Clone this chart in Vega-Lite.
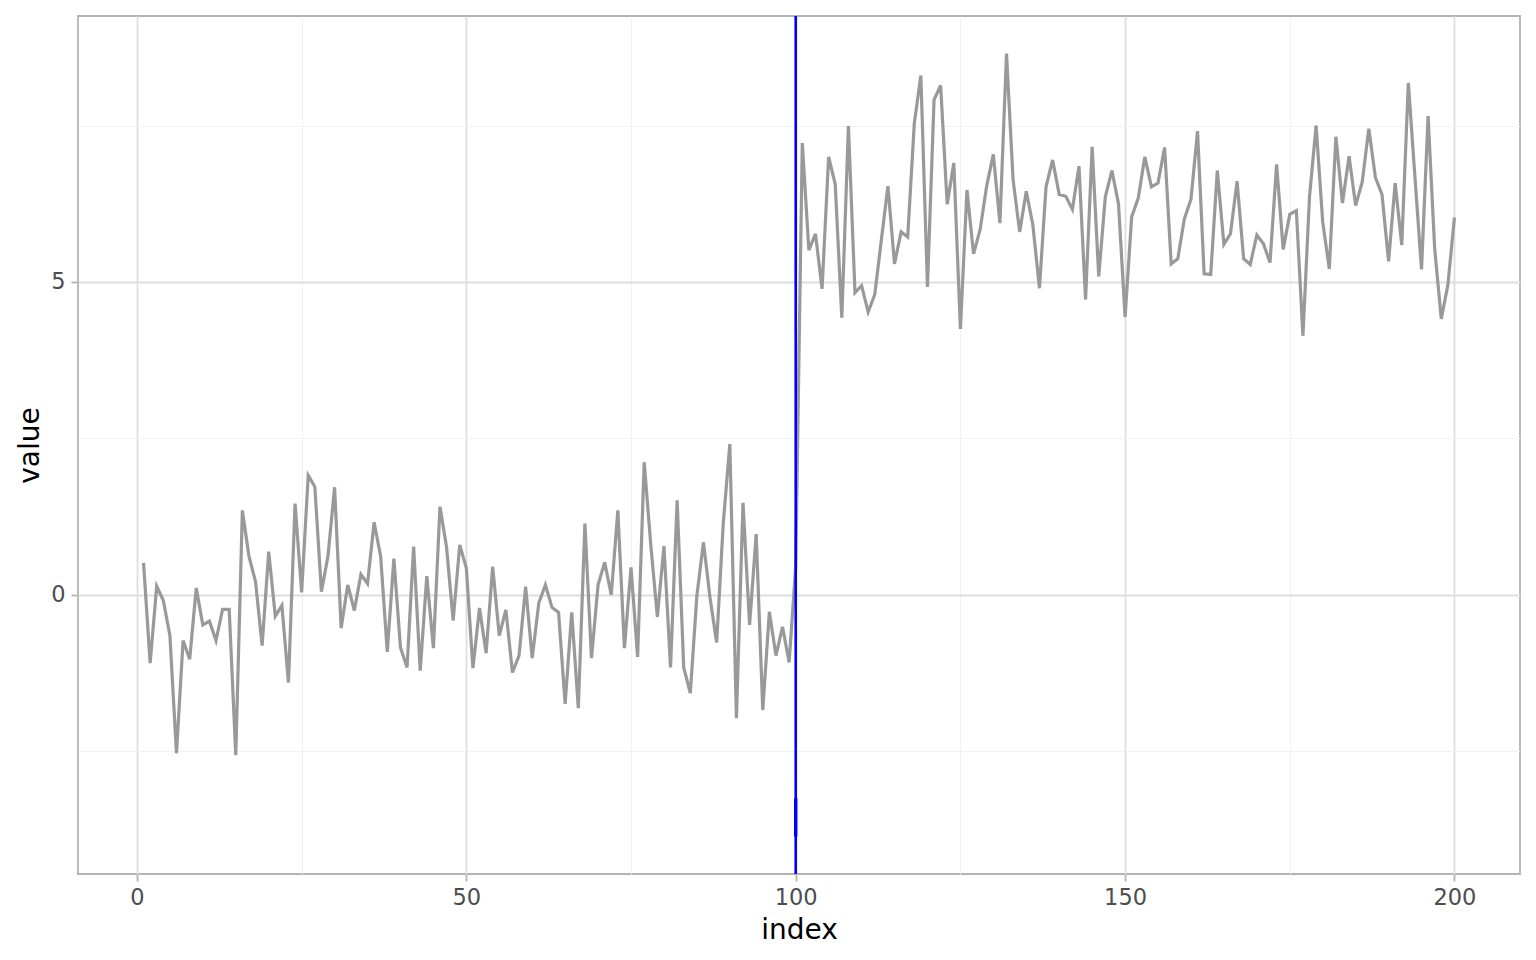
{
  "$schema": "https://vega.github.io/schema/vega-lite/v6.json",
  "width": 1442,
  "height": 858,
  "autosize": {"type": "none"},
  "padding": {"left": 78, "top": 16, "right": 16, "bottom": 86},
  "background": "white",
  "config": {
    "view": {"stroke": "#B3B3B3", "strokeWidth": 1.8},
    "axis": {
      "labelFont": "DejaVu Sans",
      "labelFontSize": 22.5,
      "labelColor": "#4D4D4D",
      "titleFont": "DejaVu Sans",
      "titleFontSize": 28,
      "titleFontWeight": "normal",
      "titleColor": "#000000",
      "domain": false,
      "tickWidth": 1.8,
      "tickSize": 7,
      "labelPadding": 4
    }
  },
  "datasets": {
    "series": [
      {"index": 1, "value": 0.51}, {"index": 2, "value": -1.09}, {"index": 3, "value": 0.14}, {"index": 4, "value": -0.09}, {"index": 5, "value": -0.65},
      {"index": 6, "value": -2.53}, {"index": 7, "value": -0.73}, {"index": 8, "value": -1.03}, {"index": 9, "value": 0.11}, {"index": 10, "value": -0.48},
      {"index": 11, "value": -0.42}, {"index": 12, "value": -0.73}, {"index": 13, "value": -0.23}, {"index": 14, "value": -0.23}, {"index": 15, "value": -2.56},
      {"index": 16, "value": 1.35}, {"index": 17, "value": 0.62}, {"index": 18, "value": 0.21}, {"index": 19, "value": -0.81}, {"index": 20, "value": 0.69},
      {"index": 21, "value": -0.34}, {"index": 22, "value": -0.17}, {"index": 23, "value": -1.40}, {"index": 24, "value": 1.46}, {"index": 25, "value": 0.04},
      {"index": 26, "value": 1.91}, {"index": 27, "value": 1.73}, {"index": 28, "value": 0.05}, {"index": 29, "value": 0.62}, {"index": 30, "value": 1.72},
      {"index": 31, "value": -0.53}, {"index": 32, "value": 0.16}, {"index": 33, "value": -0.25}, {"index": 34, "value": 0.33}, {"index": 35, "value": 0.18},
      {"index": 36, "value": 1.16}, {"index": 37, "value": 0.61}, {"index": 38, "value": -0.91}, {"index": 39, "value": 0.58}, {"index": 40, "value": -0.84},
      {"index": 41, "value": -1.16}, {"index": 42, "value": 0.77}, {"index": 43, "value": -1.21}, {"index": 44, "value": 0.30}, {"index": 45, "value": -0.85},
      {"index": 46, "value": 1.41}, {"index": 47, "value": 0.76}, {"index": 48, "value": -0.41}, {"index": 49, "value": 0.80}, {"index": 50, "value": 0.43},
      {"index": 51, "value": -1.17}, {"index": 52, "value": -0.21}, {"index": 53, "value": -0.93}, {"index": 54, "value": 0.45}, {"index": 55, "value": -0.65},
      {"index": 56, "value": -0.24}, {"index": 57, "value": -1.24}, {"index": 58, "value": -0.97}, {"index": 59, "value": 0.13}, {"index": 60, "value": -1.01},
      {"index": 61, "value": -0.13}, {"index": 62, "value": 0.16}, {"index": 63, "value": -0.20}, {"index": 64, "value": -0.28}, {"index": 65, "value": -1.74},
      {"index": 66, "value": -0.28}, {"index": 67, "value": -1.81}, {"index": 68, "value": 1.14}, {"index": 69, "value": -1.01}, {"index": 70, "value": 0.16},
      {"index": 71, "value": 0.52}, {"index": 72, "value": 0.00}, {"index": 73, "value": 1.35}, {"index": 74, "value": -0.85}, {"index": 75, "value": 0.44},
      {"index": 76, "value": -0.99}, {"index": 77, "value": 2.12}, {"index": 78, "value": 0.80}, {"index": 79, "value": -0.35}, {"index": 80, "value": 0.78},
      {"index": 81, "value": -1.16}, {"index": 82, "value": 1.51}, {"index": 83, "value": -1.16}, {"index": 84, "value": -1.57}, {"index": 85, "value": -0.01},
      {"index": 86, "value": 0.84}, {"index": 87, "value": -0.05}, {"index": 88, "value": -0.76}, {"index": 89, "value": 1.14}, {"index": 90, "value": 2.41},
      {"index": 91, "value": -1.97}, {"index": 92, "value": 1.47}, {"index": 93, "value": -0.48}, {"index": 94, "value": 0.97}, {"index": 95, "value": -1.84},
      {"index": 96, "value": -0.27}, {"index": 97, "value": -0.97}, {"index": 98, "value": -0.51}, {"index": 99, "value": -1.08}, {"index": 100, "value": 0.45},
      {"index": 101, "value": 7.22}, {"index": 102, "value": 5.51}, {"index": 103, "value": 5.77}, {"index": 104, "value": 4.89}, {"index": 105, "value": 7.00},
      {"index": 106, "value": 6.56}, {"index": 107, "value": 4.43}, {"index": 108, "value": 7.49}, {"index": 109, "value": 4.83}, {"index": 110, "value": 4.94},
      {"index": 111, "value": 4.52}, {"index": 112, "value": 4.80}, {"index": 113, "value": 5.67}, {"index": 114, "value": 6.53}, {"index": 115, "value": 5.29},
      {"index": 116, "value": 5.80}, {"index": 117, "value": 5.72}, {"index": 118, "value": 7.53}, {"index": 119, "value": 8.30}, {"index": 120, "value": 4.92},
      {"index": 121, "value": 7.91}, {"index": 122, "value": 8.14}, {"index": 123, "value": 6.24}, {"index": 124, "value": 6.90}, {"index": 125, "value": 4.25},
      {"index": 126, "value": 6.47}, {"index": 127, "value": 5.45}, {"index": 128, "value": 5.84}, {"index": 129, "value": 6.54}, {"index": 130, "value": 7.04},
      {"index": 131, "value": 5.94}, {"index": 132, "value": 8.65}, {"index": 133, "value": 6.63}, {"index": 134, "value": 5.80}, {"index": 135, "value": 6.45},
      {"index": 136, "value": 5.91}, {"index": 137, "value": 4.90}, {"index": 138, "value": 6.52}, {"index": 139, "value": 6.95}, {"index": 140, "value": 6.40},
      {"index": 141, "value": 6.37}, {"index": 142, "value": 6.16}, {"index": 143, "value": 6.85}, {"index": 144, "value": 4.72}, {"index": 145, "value": 7.16},
      {"index": 146, "value": 5.09}, {"index": 147, "value": 6.36}, {"index": 148, "value": 6.78}, {"index": 149, "value": 6.25}, {"index": 150, "value": 4.44},
      {"index": 151, "value": 6.04}, {"index": 152, "value": 6.34}, {"index": 153, "value": 7.00}, {"index": 154, "value": 6.52}, {"index": 155, "value": 6.58},
      {"index": 156, "value": 7.15}, {"index": 157, "value": 5.29}, {"index": 158, "value": 5.37}, {"index": 159, "value": 6.01}, {"index": 160, "value": 6.32},
      {"index": 161, "value": 7.41}, {"index": 162, "value": 5.13}, {"index": 163, "value": 5.12}, {"index": 164, "value": 6.78}, {"index": 165, "value": 5.60},
      {"index": 166, "value": 5.77}, {"index": 167, "value": 6.61}, {"index": 168, "value": 5.37}, {"index": 169, "value": 5.28}, {"index": 170, "value": 5.75},
      {"index": 171, "value": 5.61}, {"index": 172, "value": 5.31}, {"index": 173, "value": 6.88}, {"index": 174, "value": 5.52}, {"index": 175, "value": 6.08},
      {"index": 176, "value": 6.14}, {"index": 177, "value": 4.14}, {"index": 178, "value": 6.37}, {"index": 179, "value": 7.50}, {"index": 180, "value": 5.96},
      {"index": 181, "value": 5.21}, {"index": 182, "value": 7.32}, {"index": 183, "value": 6.26}, {"index": 184, "value": 7.01}, {"index": 185, "value": 6.22},
      {"index": 186, "value": 6.60}, {"index": 187, "value": 7.45}, {"index": 188, "value": 6.67}, {"index": 189, "value": 6.40}, {"index": 190, "value": 5.33},
      {"index": 191, "value": 6.58}, {"index": 192, "value": 5.59}, {"index": 193, "value": 8.18}, {"index": 194, "value": 6.68}, {"index": 195, "value": 5.20},
      {"index": 196, "value": 7.65}, {"index": 197, "value": 5.53}, {"index": 198, "value": 4.41}, {"index": 199, "value": 4.95}, {"index": 200, "value": 6.03}
    ],
    "cp": [{"index": 100}],
    "seg": [{"index": 100, "lo": -3.86, "hi": -3.25}]
  },
  "layer": [
    {
      "data": {"name": "series"},
      "mark": {"type": "line", "color": "#999999", "strokeWidth": 3.2},
      "encoding": {
        "x": {
          "field": "index", "type": "quantitative",
          "scale": {"domain": [-8.95, 209.95], "nice": false, "zero": false},
          "axis": {
            "title": "index",
            "values": [0, 25, 50, 75, 100, 125, 150, 175, 200],
            "labelExpr": "datum.value % 50 === 0 ? format(datum.value, 'd') : ''",
            "tickColor": {"condition": {"test": "datum.value % 50 === 0", "value": "#B3B3B3"}, "value": "transparent"},
            "gridColor": {"condition": {"test": "datum.value % 50 === 0", "value": "#DEDEDE"}, "value": "#EFEFEF"},
            "gridWidth": {"condition": {"test": "datum.value % 50 === 0", "value": 1.8}, "value": 0.9},
            "labelPadding": 5,
            "titleY": 64,
            "titleBaseline": "alphabetic"
          }
        },
        "y": {
          "field": "value", "type": "quantitative",
          "scale": {"domain": [-4.46, 9.25], "nice": false, "zero": false},
          "axis": {
            "title": "value",
            "values": [-2.5, 0, 2.5, 5, 7.5],
            "labelExpr": "datum.value % 5 === 0 ? format(datum.value, 'd') : ''",
            "tickColor": {"condition": {"test": "datum.value % 5 === 0", "value": "#B3B3B3"}, "value": "transparent"},
            "gridColor": {"condition": {"test": "datum.value % 5 === 0", "value": "#DEDEDE"}, "value": "#EFEFEF"},
            "gridWidth": {"condition": {"test": "datum.value % 5 === 0", "value": 1.8}, "value": 0.9},
            "labelPadding": 6,
            "titleX": -40,
            "titleBaseline": "alphabetic"
          }
        }
      }
    },
    {
      "data": {"name": "cp"},
      "mark": {"type": "rule", "color": "#0000FF", "strokeWidth": 2.6},
      "encoding": {"x": {"field": "index", "type": "quantitative"}}
    },
    {
      "data": {"name": "seg"},
      "mark": {"type": "rule", "color": "#0000FF", "strokeWidth": 3.4},
      "encoding": {
        "x": {"field": "index", "type": "quantitative"},
        "y": {"field": "lo", "type": "quantitative"},
        "y2": {"field": "hi"}
      }
    }
  ]
}
